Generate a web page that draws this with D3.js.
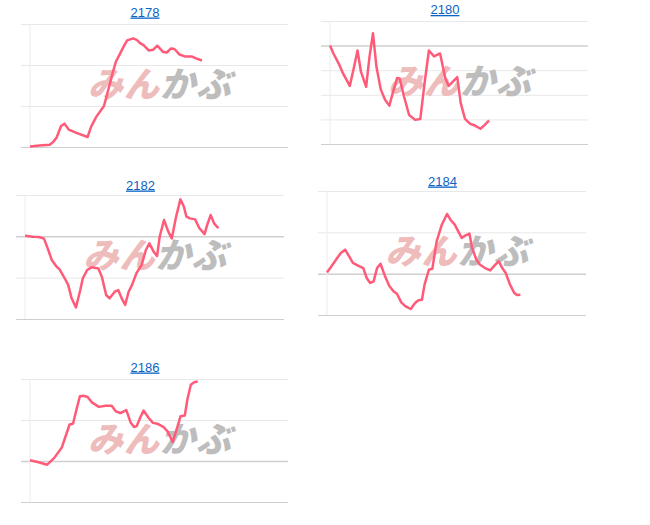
<!DOCTYPE html>
<html>
<head>
<meta charset="utf-8">
<script src="https://cdn.jsdelivr.net/npm/d3@7"></script>
<style>
  body { margin: 0; background: #fff; }
  svg { display: block; }
  .title { font-family: "Liberation Sans", Arial, sans-serif; font-size: 13px; fill: #0b63c4; text-decoration: underline; }
  .mark { font-family: "Noto Sans CJK JP", sans-serif; font-weight: 900; font-style: italic; font-size: 35px; letter-spacing: 1px; }
</style>
</head>
<body>
<div id="chart"></div>
<script>
// minutes from the open, price
var codes = ["2178", "2180", "2182", "2184", "2186"];

var t2178 = [0, 11, 23, 27, 31, 36, 40, 45, 54, 67, 71, 77, 86, 91, 96, 100, 105, 109, 113, 120, 124, 128, 132, 138, 143, 148, 155, 159, 164, 168, 174, 180, 188, 193, 200];
var p2178 = [640.3, 640.7, 641.1, 642.5, 644.6, 650.1, 651.4, 648.5, 646.9, 644.9, 649.8, 654.7, 660, 667.8, 676, 681.7, 685.8, 689.1, 692, 693, 692.3, 690.7, 689.7, 687.1, 687.4, 689.4, 686.3, 686.1, 688.1, 687.8, 685.1, 684.2, 684.2, 683.2, 682.2];

var t2180 = [0, 4, 10, 15, 23, 28, 32, 36, 42, 46, 50, 54, 59, 64, 69, 74, 78, 81, 86, 92, 99, 105, 110, 115, 121, 128, 134, 138, 148, 152, 157, 163, 168, 175, 180, 185];
var p2180 = [400, 398.4, 396.4, 394.4, 391.8, 395.7, 399, 394.7, 391.6, 397.8, 402.5, 395.7, 391.1, 389, 387.8, 391, 393.4, 393.3, 389.7, 385.9, 384.9, 385.1, 392.4, 399, 397.8, 398.4, 393.4, 391.8, 393.6, 388.3, 385.1, 384.1, 383.8, 383.1, 383.9, 384.8];

var t2182 = [0, 9, 16, 22, 27, 31, 36, 40, 46, 50, 54, 59, 64, 67, 72, 77, 85, 89, 94, 98, 104, 108, 112, 116, 120, 124, 129, 135, 140, 144, 149, 153, 156, 161, 166, 170, 175, 180, 184, 187, 191, 197, 202, 208, 211, 215, 219, 224];
var p2182 = [1220.3, 1219.8, 1219.7, 1218.9, 1213.4, 1208.5, 1205.6, 1204, 1199.7, 1196.5, 1190, 1185.6, 1194, 1199.7, 1203.7, 1205, 1204.4, 1200.5, 1191.6, 1190, 1193.2, 1194, 1190, 1186.8, 1193.2, 1196.5, 1202.1, 1206.1, 1213.4, 1216.6, 1212.6, 1210.5, 1219.8, 1227.9, 1222.3, 1219, 1229.5, 1237.9, 1234.4, 1229.5, 1228.7, 1228.2, 1223.9, 1221.1, 1225.5, 1230.3, 1226.3, 1223.9];

var t2184 = [0, 5, 11, 16, 21, 26, 30, 36, 42, 46, 50, 54, 58, 62, 67, 72, 77, 81, 86, 91, 97, 102, 106, 110, 113, 118, 122, 127, 133, 139, 143, 148, 152, 156, 160, 165, 168, 173, 177, 183, 189, 195, 199, 203, 207, 212, 217, 220, 224];
var p2184 = [2800.6, 2803.5, 2807.1, 2810, 2811.6, 2808.1, 2805.2, 2803.9, 2802.7, 2797.9, 2795.5, 2796.3, 2802.7, 2804.8, 2799, 2794.2, 2791.5, 2790.3, 2786.1, 2784.2, 2782.9, 2785.8, 2787.1, 2787.4, 2794.7, 2801.9, 2802.4, 2815.6, 2823.7, 2828.9, 2826.1, 2823.7, 2820.5, 2817.3, 2818.4, 2819.4, 2812.4, 2806.8, 2804.4, 2802.7, 2801.6, 2804.4, 2806, 2802.7, 2800.3, 2794.7, 2790.6, 2789.7, 2789.8];

var t2186 = [0, 10, 20, 28, 37, 42, 46, 50, 54, 58, 62, 67, 72, 80, 88, 95, 100, 105, 112, 117, 121, 124, 128, 132, 138, 143, 148, 155, 160, 163, 166, 171, 175, 180, 183, 187, 191, 195];
var p2186 = [890.2, 889.7, 889.1, 890.7, 893.3, 896.4, 898.9, 899.1, 902.5, 905.8, 905.9, 905.6, 904.3, 903.2, 903.5, 903.5, 902.1, 901.7, 902.4, 899.4, 898.3, 898.5, 900.5, 902.3, 900.5, 899.3, 899.1, 898.3, 897.2, 895.9, 894.6, 898, 900.9, 901.1, 905, 908.6, 909.2, 909.4];

var times = [t2178, t2180, t2182, t2184, t2186];
var prices = [p2178, p2180, p2182, p2184, p2186];

// y ticks (gridlines) and previous close for each chart
var ticks2178 = [640, 660, 680, 700];
var ticks2180 = [380, 385, 390, 395, 400, 405];
var ticks2182 = [1180, 1200, 1220, 1240];
var ticks2184 = [2780, 2800, 2820, 2840];
var ticks2186 = [880, 890, 900, 910];
var yTicks = [ticks2178, ticks2180, ticks2182, ticks2184, ticks2186];
var prevClose = [640, 400, 1220, 2800, 890];

var session = [0, 300];

// plot boxes on the page
var boxes = [
  { left: 30, top: 24, w: 258, h: 123, title: 16.5 },
  { left: 330, top: 21, w: 258, h: 123, title: 14 },
  { left: 25, top: 195, w: 259, h: 124, title: 189.5 },
  { left: 327, top: 191, w: 259, h: 124, title: 185.5 },
  { left: 30, top: 379, w: 258, h: 123, title: 371.5 }
];

var svg = d3.select("#chart").append("svg")
    .attr("width", 650)
    .attr("height", 525);

codes.forEach(function(code, i) {
  var b = boxes[i];
  var x = d3.scaleLinear().domain(session).range([0, b.w]);
  var y = d3.scaleLinear().domain(d3.extent(yTicks[i])).range([b.h, 0]);

  svg.append("text")
      .attr("class", "title")
      .attr("x", b.left + b.w / 2 - 14)
      .attr("y", b.title)
      .attr("text-anchor", "middle")
      .text(code);

  var g = svg.append("g")
      .attr("transform", "translate(" + b.left + "," + b.top + ")");

  // gridlines
  g.append("g")
      .attr("transform", "translate(-9,0)")
      .call(d3.axisLeft(y).tickValues(yTicks[i]).tickSize(-(b.w + 9)).tickFormat(""))
      .call(function(a) {
        a.select(".domain").remove();
        a.selectAll(".tick line")
            .attr("stroke", function(d) { return d === prevClose[i] || d === yTicks[i][0] ? "#cfcfcf" : "#e8e8e8"; })
            .attr("stroke-width", function(d) { return d === prevClose[i] && d !== yTicks[i][0] ? 1.5 : 1; });
      });

  g.append("line")
      .attr("x1", 0).attr("x2", 0)
      .attr("y1", 0).attr("y2", b.h)
      .attr("stroke", "#ececec");

  // watermark
  var wm = g.append("text")
      .attr("class", "mark")
      .attr("x", b.w / 2 + 1)
      .attr("y", b.h / 2 - 5)
      .attr("text-anchor", "middle")
      .attr("dominant-baseline", "central");
  wm.append("tspan").attr("fill", "#efbcbc").text("みん");
  wm.append("tspan").attr("fill", "#bdbdbd").text("かぶ");

  var pts = times[i].map(function(t, k) { return [t, prices[i][k]]; });
  g.append("path")
      .datum(pts)
      .attr("fill", "none")
      .attr("stroke", "#ff5b79")
      .attr("stroke-width", 2.5)
      .attr("stroke-linejoin", "round")
      .attr("d", d3.line()
          .x(function(d) { return x(d[0]); })
          .y(function(d) { return y(d[1]); }));
});
</script>
</body>
</html>
